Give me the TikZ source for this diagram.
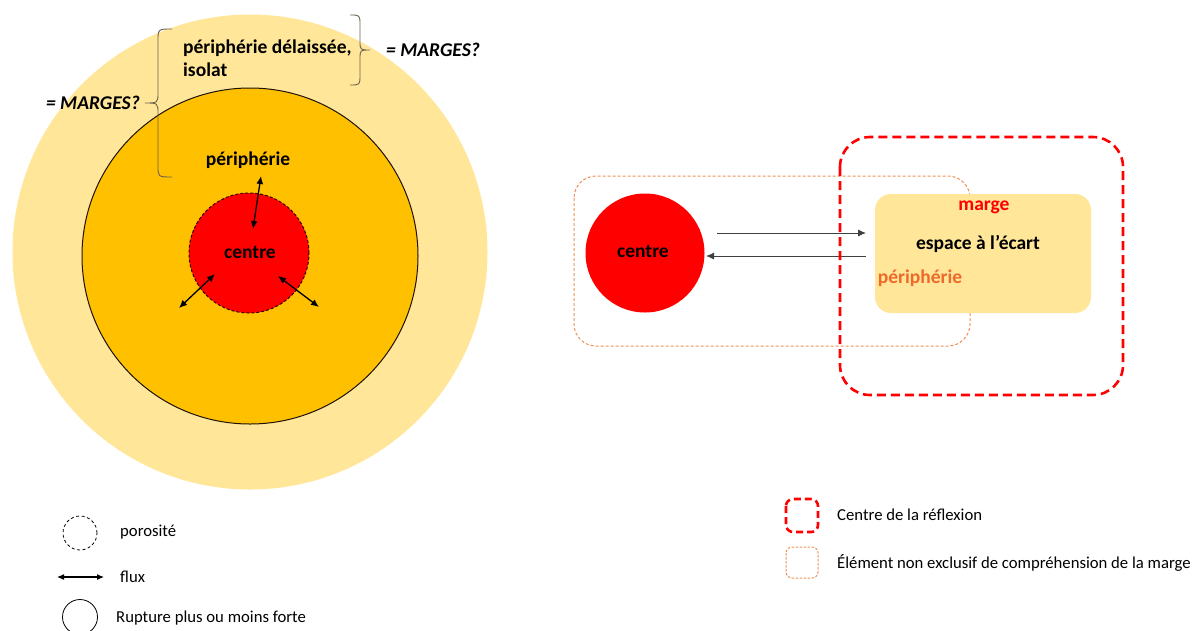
\documentclass[tikz,border=0pt]{standalone}
\usepackage{fontspec}
\setmainfont{Carlito}
\usetikzlibrary{arrows.meta}
\definecolor{lightgold}{HTML}{FFE699}
\definecolor{gold}{HTML}{FFC000}
\definecolor{myred}{HTML}{FF0000}
\definecolor{myorange}{HTML}{EE6A2C}
\definecolor{dashorange}{HTML}{EE9055}
\definecolor{bracegray}{HTML}{6E6252}
\tikzset{
  lbl/.style={font=\fontsize{19.5}{23}\selectfont\bfseries, inner sep=0pt},
  legtext/.style={font=\fontsize{16.7}{20}\selectfont, inner sep=0pt, anchor=west},
  marges/.style={font=\fontsize{19.5}{23}\selectfont\bfseries\itshape, inner sep=0pt},
  flux/.style={line width=1.3pt, {Latex[length=8pt,width=7pt]}-{Latex[length=8pt,width=7pt]}},
  oneway/.style={line width=0.9pt, draw=black!75, -{Latex[length=8pt,width=7pt]}},
  bracepath/.style={draw=bracegray, line width=0.9pt},
  redbox/.style={draw=myred, line width=2.6pt, dash pattern=on 9pt off 5pt, rounded corners=30pt},
  orangebox/.style={draw=dashorange, line width=1pt, dash pattern=on 3pt off 2pt, rounded corners=22pt},
}
\begin{document}
\begin{tikzpicture}[x=1pt,y=-1pt]
\useasboundingbox (0,0) rectangle (1193,630);
% ===== left diagram =====
\node[circle, fill=lightgold, minimum size=475pt, inner sep=0pt] (outer) at (250,252) {};
\node[circle, fill=gold, draw=black!85!brown, line width=1pt, minimum size=336pt, inner sep=0pt] (peri) at (250,256) {};
\node[circle, fill=myred, draw=black!80!red, line width=1pt, dash pattern=on 3pt off 2pt, minimum size=120pt, inner sep=0pt] (centreL) at (249,253) {};
\node[lbl] (centreTxt) at (250,252) {centre};
\node[lbl] (periTxt) at (248,160) {périphérie};
\node[lbl, anchor=west, align=left] (delaisse) at (183,58) {périphérie délaissée,\\isolat};
% flux arrows
\coordinate (a1s) at (253,229); \coordinate (a1e) at (261,176);
\coordinate (a2s) at (215,274); \coordinate (a2e) at (179,308);
\coordinate (a3s) at (278,276); \coordinate (a3e) at (319,307);
\draw[flux] (a1s) -- (a1e);
\draw[flux] (a2s) -- (a2e);
\draw[flux] (a3s) -- (a3e);
% braces
\path[bracepath] (172,29) .. controls (158,29) .. (158,41) -- (158,92) .. controls (158,103) .. (145,103) .. controls (158,103) .. (158,114) -- (158,166) .. controls (158,177) .. (172,177);
\path[bracepath] (350,15) .. controls (360,15) .. (360,25) -- (360,41) .. controls (360,50) .. (370,50) .. controls (360,50) .. (360,59) -- (360,75) .. controls (360,85) .. (350,85);
\node[marges, anchor=east] (m1) at (140,103) {= MARGES?};
\node[marges, anchor=west] (m2) at (386,50) {= MARGES?};
% ===== right diagram =====
\draw[orangebox] (574,176) rectangle (970,346);
\fill[lightgold, rounded corners=16pt] (875,194) rectangle (1091,313);
\node[circle, fill=myred, minimum size=119pt, inner sep=0pt] (centreR) at (645,253) {};
\node[lbl] (centreRTxt) at (643,251) {centre};
\node[lbl, text=myred] (marge) at (984,207) {marge};
\node[lbl] (espace) at (978,244) {espace à l’écart};
\node[lbl, text=myorange] (periR) at (920,278) {périphérie};
\coordinate (t1s) at (717,233); \coordinate (t1e) at (866,233);
\coordinate (t2s) at (866,256); \coordinate (t2e) at (706,256);
\draw[oneway] (t1s) -- (t1e);
\draw[oneway] (t2s) -- (t2e);
\draw[redbox] (840,137) rectangle (1123,395);
% ===== legends =====
\node[circle, draw=black, line width=0.8pt, dash pattern=on 3pt off 2.5pt, minimum size=34pt, inner sep=0pt] (lgPor) at (80,533) {};
\node[legtext] (lgPorT) at (120,532) {porosité};
\coordinate (lgFs) at (57,577); \coordinate (lgFe) at (104,577);
\draw[line width=1.1pt, {Latex[length=7pt,width=6pt]}-{Latex[length=7pt,width=6pt]}] (lgFs) -- (lgFe);
\node[legtext] (lgFluxT) at (120,577) {flux};
\node[circle, draw=black, line width=0.8pt, minimum size=35pt, inner sep=0pt] (lgRup) at (80,617) {};
\node[legtext] (lgRupT) at (116,618) {Rupture plus ou moins forte};
\draw[draw=myred, line width=2.6pt, dash pattern=on 7pt off 4pt, rounded corners=7pt] (786,499) rectangle (818,532);
\node[legtext] (lgRedT) at (837,515) {Centre de la réflexion};
\draw[draw=dashorange, line width=1pt, dash pattern=on 2.5pt off 1.5pt, rounded corners=6pt] (786,547) rectangle (818,578);
\node[legtext] (lgOrT) at (837,563) {Élément non exclusif de compréhension de la marge};
\end{tikzpicture}
\end{document}
